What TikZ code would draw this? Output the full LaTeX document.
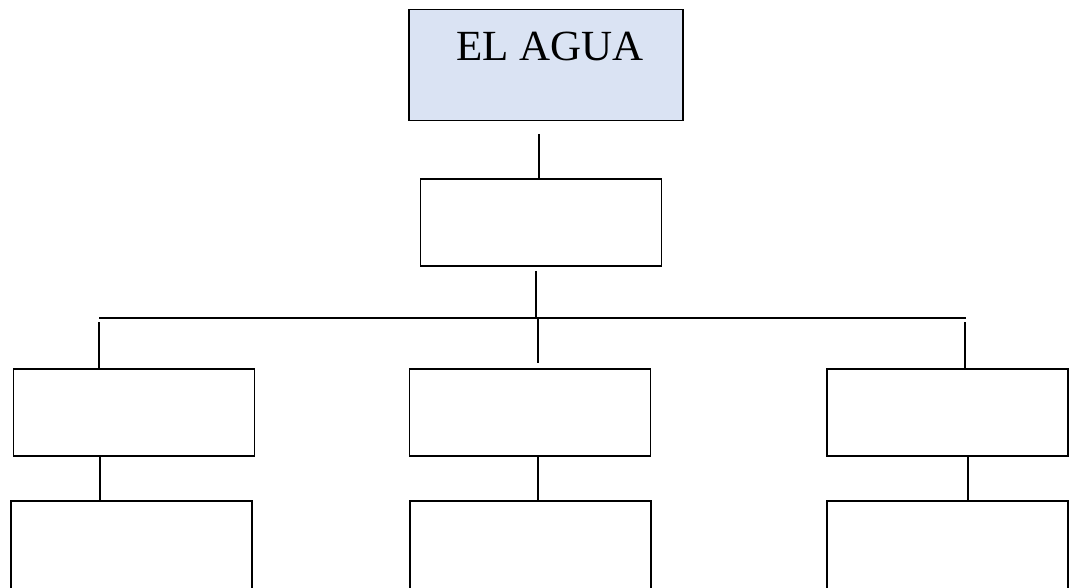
\documentclass[tikz,border=0pt]{standalone}
\usepackage{fontspec}
\setmainfont{Liberation Serif}
\begin{document}
\begin{tikzpicture}[x=1pt,y=-1pt,
  box/.style={draw=black,line width=1.5pt,fill=white,inner sep=0pt,minimum width=241pt,minimum height=87pt},
  link/.style={draw=black,line width=1.6pt}]
\useasboundingbox (0,0) rectangle (1069,588);
\clip (0,0) rectangle (1069,588);

% title box
\node[box,fill={rgb,255:red,218;green,227;blue,243},minimum width=274pt,minimum height=111pt] (top) at (546,65) {};
\node[anchor=base,font=\fontsize{43}{48}\selectfont,inner sep=0pt] (title) at (550,61) {EL AGUA};

% second level
\node[box] (mid) at (541,222.5) {};

% third level
\node[box] (l1) at (134,412.3) {};
\node[box] (m1) at (530,412.3) {};
\node[box] (r1) at (947.5,412.3) {};

% fourth level
\node[box,minimum height=100pt] (l2) at (131.5,551) {};
\node[box,minimum height=100pt] (m2) at (530.5,551) {};
\node[box,minimum height=100pt] (r2) at (947.5,551) {};

% connector anchors
\coordinate (t0) at (539,134);
\coordinate (t1) at (539,179);
\coordinate (s0) at (536,271);
\coordinate (s1) at (536,318);
\coordinate (hL) at (99,318);
\coordinate (hR) at (966,318);
\coordinate (dl0) at (99,322);
\coordinate (dl1) at (99,369);
\coordinate (dm0) at (538,318);
\coordinate (dm1) at (538,363);
\coordinate (dr0) at (965,322);
\coordinate (dr1) at (965,369);

\path[link] (t0) -- (t1);
\path[link] (s0) -- (s1);
\path[link] (hL) -- (hR);
\path[link] (dl0) -- (dl1);
\path[link] (dm0) -- (dm1);
\path[link] (dr0) -- (dr1);
\path[link] (l1.south -| 100,0) -- (l2.north -| 100,0);
\path[link] (m1.south -| 538,0) -- (m2.north -| 538,0);
\path[link] (r1.south -| 968,0) -- (r2.north -| 968,0);
\end{tikzpicture}
\end{document}
